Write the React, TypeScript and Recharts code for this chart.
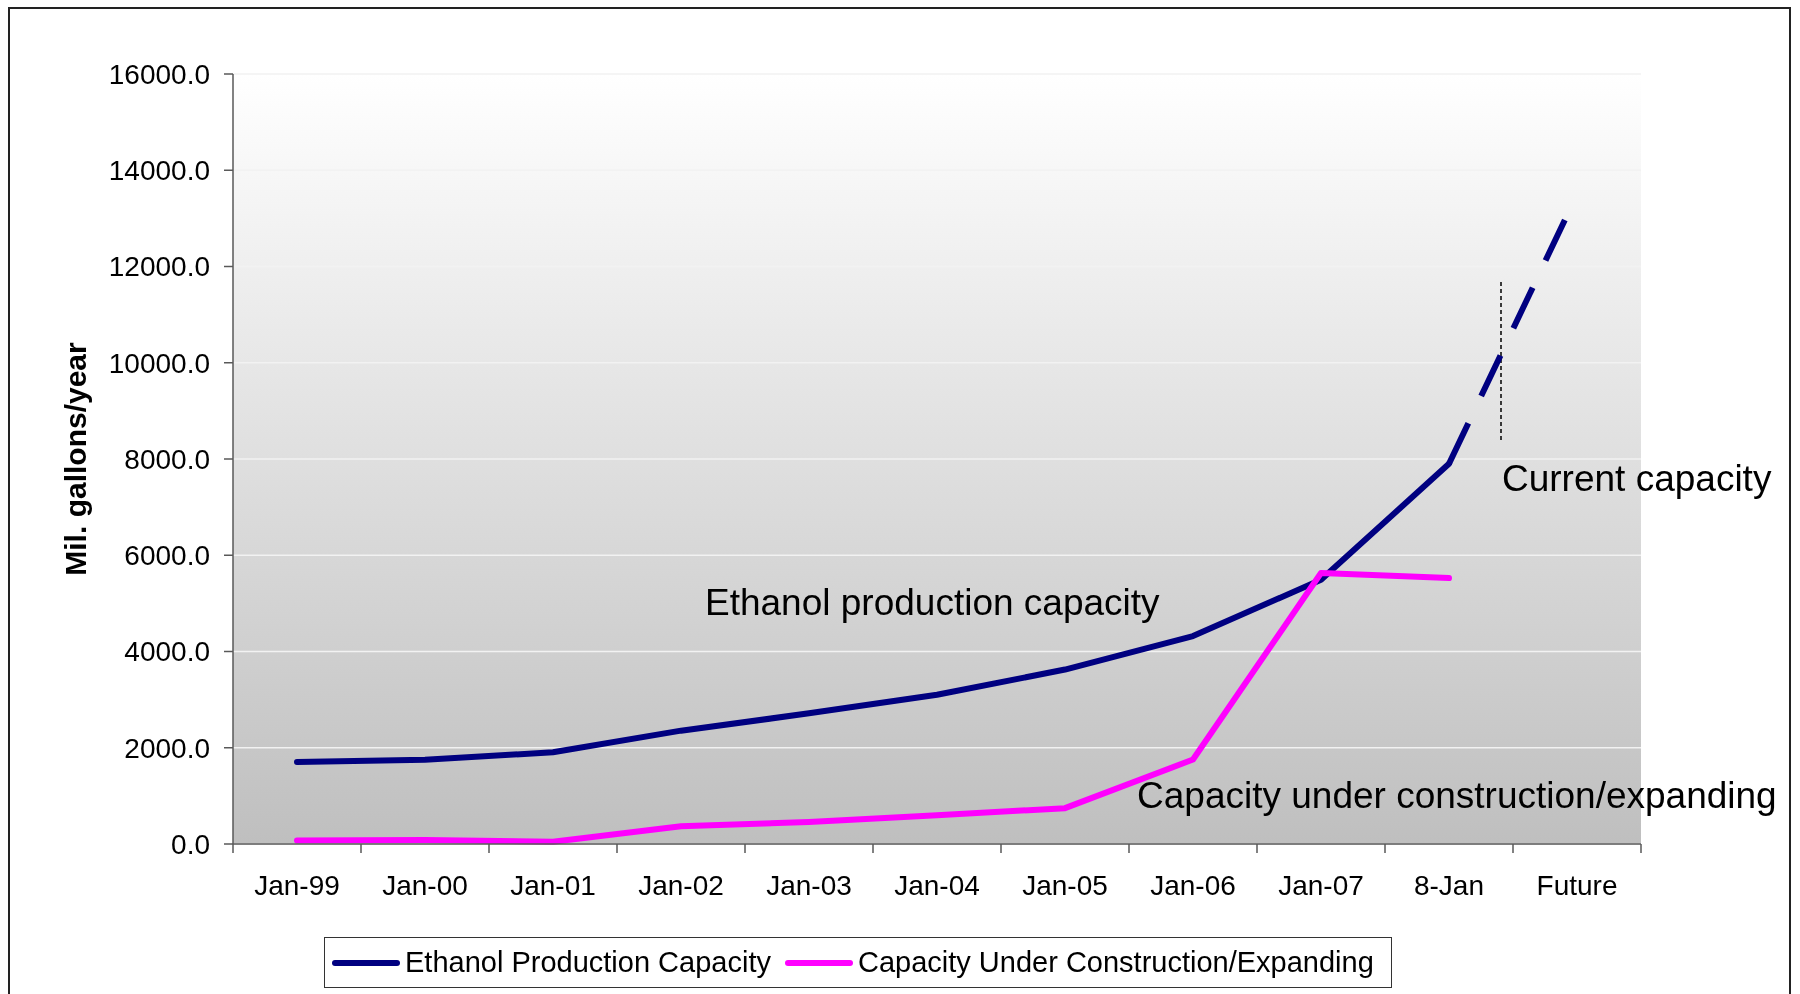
import { LineChart, Line, XAxis, YAxis, CartesianGrid, Legend } from "recharts";

// Category labels along the bottom axis
const months = ["Jan-99", "Jan-00", "Jan-01", "Jan-02", "Jan-03", "Jan-04", "Jan-05", "Jan-06", "Jan-07", "8-Jan", "Future"];

// Mil. gallons/year
const productionCapacity = [1705, 1750, 1905, 2355, 2715, 3100, 3625, 4320, 5490, 7900, null];
const underConstruction = [75, 85, 45, 370, 455, 595, 745, 1755, 5630, 5525, null];
const projectedCapacity = [null, null, null, null, null, null, null, null, null, 7900, 13500];

const yTicks = [0, 2000, 4000, 6000, 8000, 10000, 12000, 14000, 16000];

const seriesNames = ["Ethanol Production Capacity", "Capacity Under Construction/Expanding"];

const chartData = months.map((month, i) => ({
  month,
  capacity: productionCapacity[i],
  construction: underConstruction[i],
  projected: projectedCapacity[i],
}));

const FONT = "'Liberation Sans', Arial, Helvetica, sans-serif";
const AXIS = "#595959";
const NAVY = "#000080";
const MAGENTA = "#FF00FF";

const W = 1783;
const H = 986;
const MARGIN = { top: 66, right: 150, bottom: 90, left: 0 };
const Y_AXIS_W = 225;
const X_AXIS_H = 60;
const bandWidth = (W - MARGIN.left - Y_AXIS_W - MARGIN.right) / months.length;

// Excel-style category axis: ticks sit between categories, labels in the middle
function MonthTick(props: any) {
  const { x, y, payload, index } = props;
  const half = bandWidth / 2;
  const last = index === months.length - 1;
  return (
    <g>
      <line x1={x - half} x2={x - half} y1={y} y2={y + 9} stroke={AXIS} strokeWidth={1.5} />
      {last && <line x1={x + half} x2={x + half} y1={y} y2={y + 9} stroke={AXIS} strokeWidth={1.5} />}
      <text x={x} y={y + 51} textAnchor="middle" fontSize={28} fill="#000" fontFamily={FONT}>
        {payload.value}
      </text>
    </g>
  );
}

function LegendBox(props: any) {
  const items = (props.payload || [])
    .filter((p: any) => p.type !== "none")
    .sort((a: any, b: any) => seriesNames.indexOf(a.value) - seriesNames.indexOf(b.value));
  return (
    <div
      style={{
        boxSizing: "border-box",
        width: "100%",
        height: 51,
        border: "1.5px solid #333",
        background: "#fff",
        display: "flex",
        alignItems: "center",
        fontFamily: FONT,
        fontSize: 29,
        color: "#000",
        lineHeight: 1,
      }}
    >
      {items.map((item: any, i: number) => (
        <div key={item.value} style={{ display: "flex", alignItems: "center", marginLeft: i === 0 ? 7 : 14 }}>
          <svg width={68} height={10} style={{ display: "block" }}>
            <line x1={3} x2={65} y1={5} y2={5} stroke={item.color} strokeWidth={6} strokeLinecap="round" />
          </svg>
          <span style={{ marginLeft: 5, whiteSpace: "nowrap" }}>{item.value}</span>
        </div>
      ))}
    </div>
  );
}

export default function App() {
  return (
    <div style={{ position: "fixed", left: 8, top: 8, width: W, height: H }}>
      <LineChart width={W} height={H} data={chartData} margin={MARGIN}>
        <defs>
          <linearGradient id="plotBg" x1="0" y1="0" x2="0" y2="1">
            <stop offset="0%" stopColor="#ffffff" />
            <stop offset="100%" stopColor="#bfbfbf" />
          </linearGradient>
        </defs>
        <CartesianGrid vertical={false} stroke="#f2f2f2" strokeWidth={1.5} fill="url(#plotBg)" fillOpacity={1} />
        <XAxis
          dataKey="month"
          height={X_AXIS_H}
          interval={0}
          padding={{ left: bandWidth / 2, right: bandWidth / 2 }}
          tickSize={0}
          tickMargin={0}
          tickLine={false}
          axisLine={{ stroke: AXIS, strokeWidth: 1.5 }}
          tick={<MonthTick />}
        />
        <XAxis xAxisId="top" dataKey="month" orientation="top" height={0} tick={false} tickLine={false} axisLine={{ stroke: "#b3b3b3", strokeWidth: 1.5 }} />
        <YAxis
          width={Y_AXIS_W}
          domain={[0, 16000]}
          ticks={yTicks}
          interval={0}
          tickSize={9}
          tickMargin={14}
          tickFormatter={(v: number) => v.toFixed(1)}
          tick={{ fontSize: 28, fill: "#000", fontFamily: FONT }}
          tickLine={{ stroke: AXIS, strokeWidth: 1.5 }}
          axisLine={{ stroke: AXIS, strokeWidth: 1.5 }}
        />
        <YAxis yAxisId="right" orientation="right" width={0} tick={false} tickLine={false} axisLine={{ stroke: "#b3b3b3", strokeWidth: 1.5 }} />
        <Legend
          layout="horizontal"
          verticalAlign="middle"
          align="center"
          itemSorter={null}
          wrapperStyle={{ left: 316, top: 929, width: 1068, height: 51 }}
          content={<LegendBox />}
        />
        <Line
          dataKey="projected"
          stroke={NAVY}
          strokeWidth={6}
          strokeDasharray="45 30"
          dot={false}
          activeDot={false}
          legendType="none"
          connectNulls={false}
          isAnimationActive={false}
        />
        <Line
          dataKey="capacity"
          name={seriesNames[0]}
          stroke={NAVY}
          strokeWidth={6}
          strokeLinecap="round"
          strokeLinejoin="round"
          dot={false}
          activeDot={false}
          isAnimationActive={false}
        />
        <Line
          dataKey="construction"
          name={seriesNames[1]}
          stroke={MAGENTA}
          strokeWidth={6}
          strokeLinecap="round"
          strokeLinejoin="round"
          dot={false}
          activeDot={false}
          isAnimationActive={false}
        />
        {/* annotations */}
        <text x={697} y={607} fontSize={37} fontFamily={FONT} fill="#000">Ethanol production capacity</text>
        <text x={1494} y={483} fontSize={37} fontFamily={FONT} fill="#000">Current capacity</text>
        <text x={1129} y={800} fontSize={37} fontFamily={FONT} fill="#000">Capacity under construction/expanding</text>
        <line x1={1493} x2={1493} y1={274} y2={435} stroke="#000" strokeWidth={1.5} strokeDasharray="4 3" />
        <text
          x={67}
          y={451}
          transform="rotate(-90 67 451)"
          textAnchor="middle"
          dominantBaseline="central"
          fontSize={30}
          fontWeight="bold"
          fontFamily={FONT}
          fill="#000"
        >
          Mil. gallons/year
        </text>
      </LineChart>
      <div
        style={{
          position: "absolute",
          left: 0,
          top: -1,
          width: W,
          height: H + 1,
          boxSizing: "border-box",
          borderLeft: "2px solid #222",
          borderTop: "2px solid #222",
          borderRight: "2px solid #222",
          pointerEvents: "none",
        }}
      />
    </div>
  );
}
